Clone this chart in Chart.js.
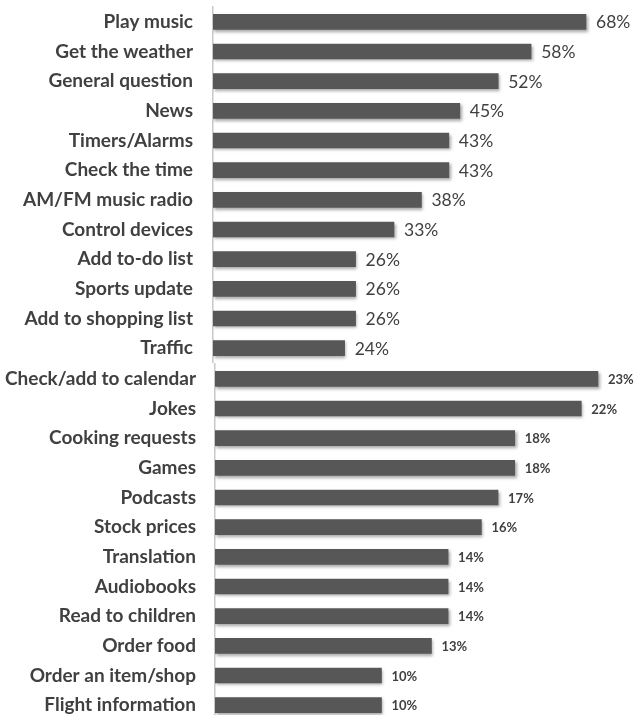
<!DOCTYPE html>
<html>
<head>
<meta charset="utf-8">
<script src="https://cdn.jsdelivr.net/npm/chart.js@4.4.1/dist/chart.umd.min.js"></script>
<style>
  html, body { margin: 0; padding: 0; background: #fff; overflow: hidden; width: 638px; height: 715px; }
  canvas { position: absolute; left: 0; display: block; }
  #topChart { top: 0; }
  #bottomChart { top: 363px; }
</style>
</head>
<body>
<canvas id="topChart" width="638" height="363"></canvas>
<canvas id="bottomChart" width="638" height="357"></canvas>
<script>
// Smart speaker uses — most common tasks
const topCategories = [
  'Play music', 'Get the weather', 'General question', 'News',
  'Timers/Alarms', 'Check the time', 'AM/FM music radio', 'Control devices',
  'Add to-do list', 'Sports update', 'Add to shopping list', 'Traffic'
];
const topValues = [68, 58, 52, 45, 43, 43, 38, 33, 26, 26, 26, 24];

// Less common tasks
const bottomCategories = [
  'Check/add to calendar', 'Jokes', 'Cooking requests', 'Games',
  'Podcasts', 'Stock prices', 'Translation', 'Audiobooks',
  'Read to children', 'Order food', 'Order an item/shop', 'Flight information'
];
const bottomValues = [23, 22, 18, 18, 17, 16, 14, 14, 14, 13, 10, 10];

const TEXT = '#404040';
const BAR = '#575757';
const FONT = 'Lato, "Open Sans", sans-serif';

// Soft drop shadow under the bars
const barShadow = {
  id: 'barShadow',
  beforeDatasetsDraw(chart) {
    const c = chart.ctx;
    c.save();
    c.shadowColor = 'rgba(0,0,0,0.35)';
    c.shadowBlur = 3;
    c.shadowOffsetX = 1.5;
    c.shadowOffsetY = 2;
  },
  afterDatasetsDraw(chart) {
    chart.ctx.restore();
  }
};

// Percentage label at the end of every bar
const valueLabels = {
  id: 'valueLabels',
  afterDraw(chart, args, opts) {
    const c = chart.ctx;
    const meta = chart.getDatasetMeta(0);
    const data = chart.data.datasets[0].data;
    c.save();
    c.fillStyle = TEXT;
    c.font = opts.font;
    c.textAlign = 'left';
    c.textBaseline = 'middle';
    meta.data.forEach((bar, i) => {
      c.fillText(data[i] + '%', bar.x + opts.gap, bar.y + 1);
    });
    c.restore();
  }
};

function makeChart(id, categories, values, xMax, axisLeft, labelRight, padTop, rightPad, labelFont) {
  return new Chart(document.getElementById(id), {
    type: 'bar',
    data: {
      labels: categories,
      datasets: [{
        data: values,
        backgroundColor: BAR,
        borderWidth: 0,
        barThickness: 15
      }]
    },
    options: {
      indexAxis: 'y',
      responsive: false,
      animation: false,
      layout: { padding: { top: padTop, bottom: 0, left: 0, right: rightPad } },
      plugins: {
        legend: { display: false },
        tooltip: { enabled: false },
        valueLabels: { font: labelFont, gap: 10 }
      },
      scales: {
        x: {
          display: false,
          min: 0,
          max: xMax
        },
        y: {
          afterFit(scale) {
            scale.width = axisLeft;
            scale.paddingTop = 0;
            scale.paddingBottom = 0;
          },
          grid: { display: false, drawTicks: false },
          border: { display: true, color: '#c8c8c8', width: 1.5 },
          ticks: {
            color: TEXT,
            padding: axisLeft - labelRight,
            font: { family: FONT, size: 19, weight: 'bold' }
          }
        }
      }
    },
    plugins: [barShadow, valueLabels]
  });
}

// Top panel: 0–70 % scale
makeChart('topChart', topCategories, topValues, 70, 213, 193, 7, 638 - 213 - 70 * 5.485,
  '17.5px ' + FONT);
// Bottom panel: 0–25 % scale
makeChart('bottomChart', bottomCategories, bottomValues, 25, 215, 196, 1, 638 - 215 - 25 * 16.65,
  'bold 13px ' + FONT);
</script>
</body>
</html>
